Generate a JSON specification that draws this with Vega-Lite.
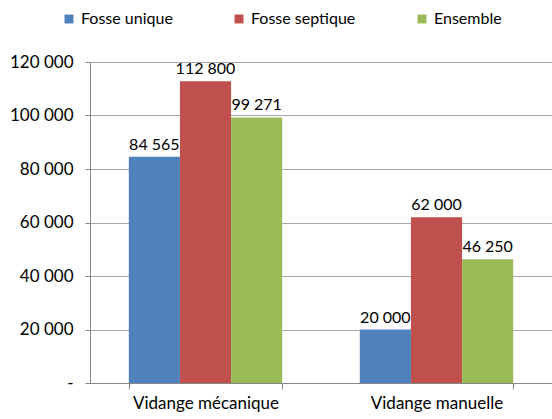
{
  "$schema": "https://vega.github.io/schema/vega-lite/v6.json",
  "width": 462,
  "height": 321,
  "autosize": {"type": "none"},
  "padding": {"left": 90, "top": 62, "right": 0, "bottom": 36},
  "background": "white",
  "config": {
    "font": "Lato",
    "view": {"stroke": null}
  },
  "data": {
    "values": [
      {"cat": "Vidange mécanique", "serie": "Fosse unique", "v": 84565, "lbl": "84 565"},
      {"cat": "Vidange mécanique", "serie": "Fosse septique", "v": 112800, "lbl": "112 800"},
      {"cat": "Vidange mécanique", "serie": "Ensemble", "v": 99271, "lbl": "99 271"},
      {"cat": "Vidange manuelle", "serie": "Fosse unique", "v": 20000, "lbl": "20 000"},
      {"cat": "Vidange manuelle", "serie": "Fosse septique", "v": 62000, "lbl": "62 000"},
      {"cat": "Vidange manuelle", "serie": "Ensemble", "v": 46250, "lbl": "46 250"}
    ]
  },
  "encoding": {
    "x": {
      "field": "cat", "type": "nominal",
      "sort": ["Vidange mécanique", "Vidange manuelle"],
      "scale": {"paddingInner": 0.336, "paddingOuter": 0.168},
      "axis": {
        "title": null, "labelAngle": 0, "labelFontSize": 17, "labelColor": "#000000",
        "labelPadding": 6, "tickBand": "extent", "tickSize": 6,
        "domainColor": "#868686", "tickColor": "#868686", "grid": false
      }
    },
    "xOffset": {
      "field": "serie", "type": "nominal",
      "sort": ["Fosse unique", "Fosse septique", "Ensemble"],
      "scale": {"paddingInner": 0, "paddingOuter": 0}
    },
    "y": {
      "field": "v", "type": "quantitative",
      "scale": {"domain": [0, 120000], "nice": false},
      "axis": {
        "title": null, "values": [0, 20000, 40000, 60000, 80000, 100000, 120000],
        "labelExpr": "datum.value == 0 ? '-' : replace(format(datum.value, ','), ',', ' ')",
        "labelFontSize": 17, "labelColor": "#000000", "labelPadding": 12,
        "tickSize": 5, "tickColor": "#868686", "domainColor": "#868686",
        "gridColor": "#a6a6a6", "gridWidth": 1
      }
    }
  },
  "layer": [
    {
      "mark": {"type": "bar"},
      "encoding": {
        "color": {
          "field": "serie", "type": "nominal",
          "sort": ["Fosse unique", "Fosse septique", "Ensemble"],
          "scale": {"domain": ["Fosse unique", "Fosse septique", "Ensemble"], "range": ["#4F81BD", "#C0504D", "#9BBB59"]},
          "legend": {
            "title": null, "orient": "none", "direction": "horizontal",
            "legendX": -29, "legendY": -51,
            "symbolType": "square", "symbolSize": 80, "symbolStrokeWidth": 0,
            "labelFontSize": 16, "labelColor": "#000000", "columnPadding": 58, "labelOffset": 4
          }
        }
      }
    },
    {
      "mark": {"type": "text", "baseline": "bottom", "dy": -4, "fontSize": 16, "color": "#000000"},
      "encoding": {
        "text": {"field": "lbl", "type": "nominal"}
      }
    }
  ]
}
